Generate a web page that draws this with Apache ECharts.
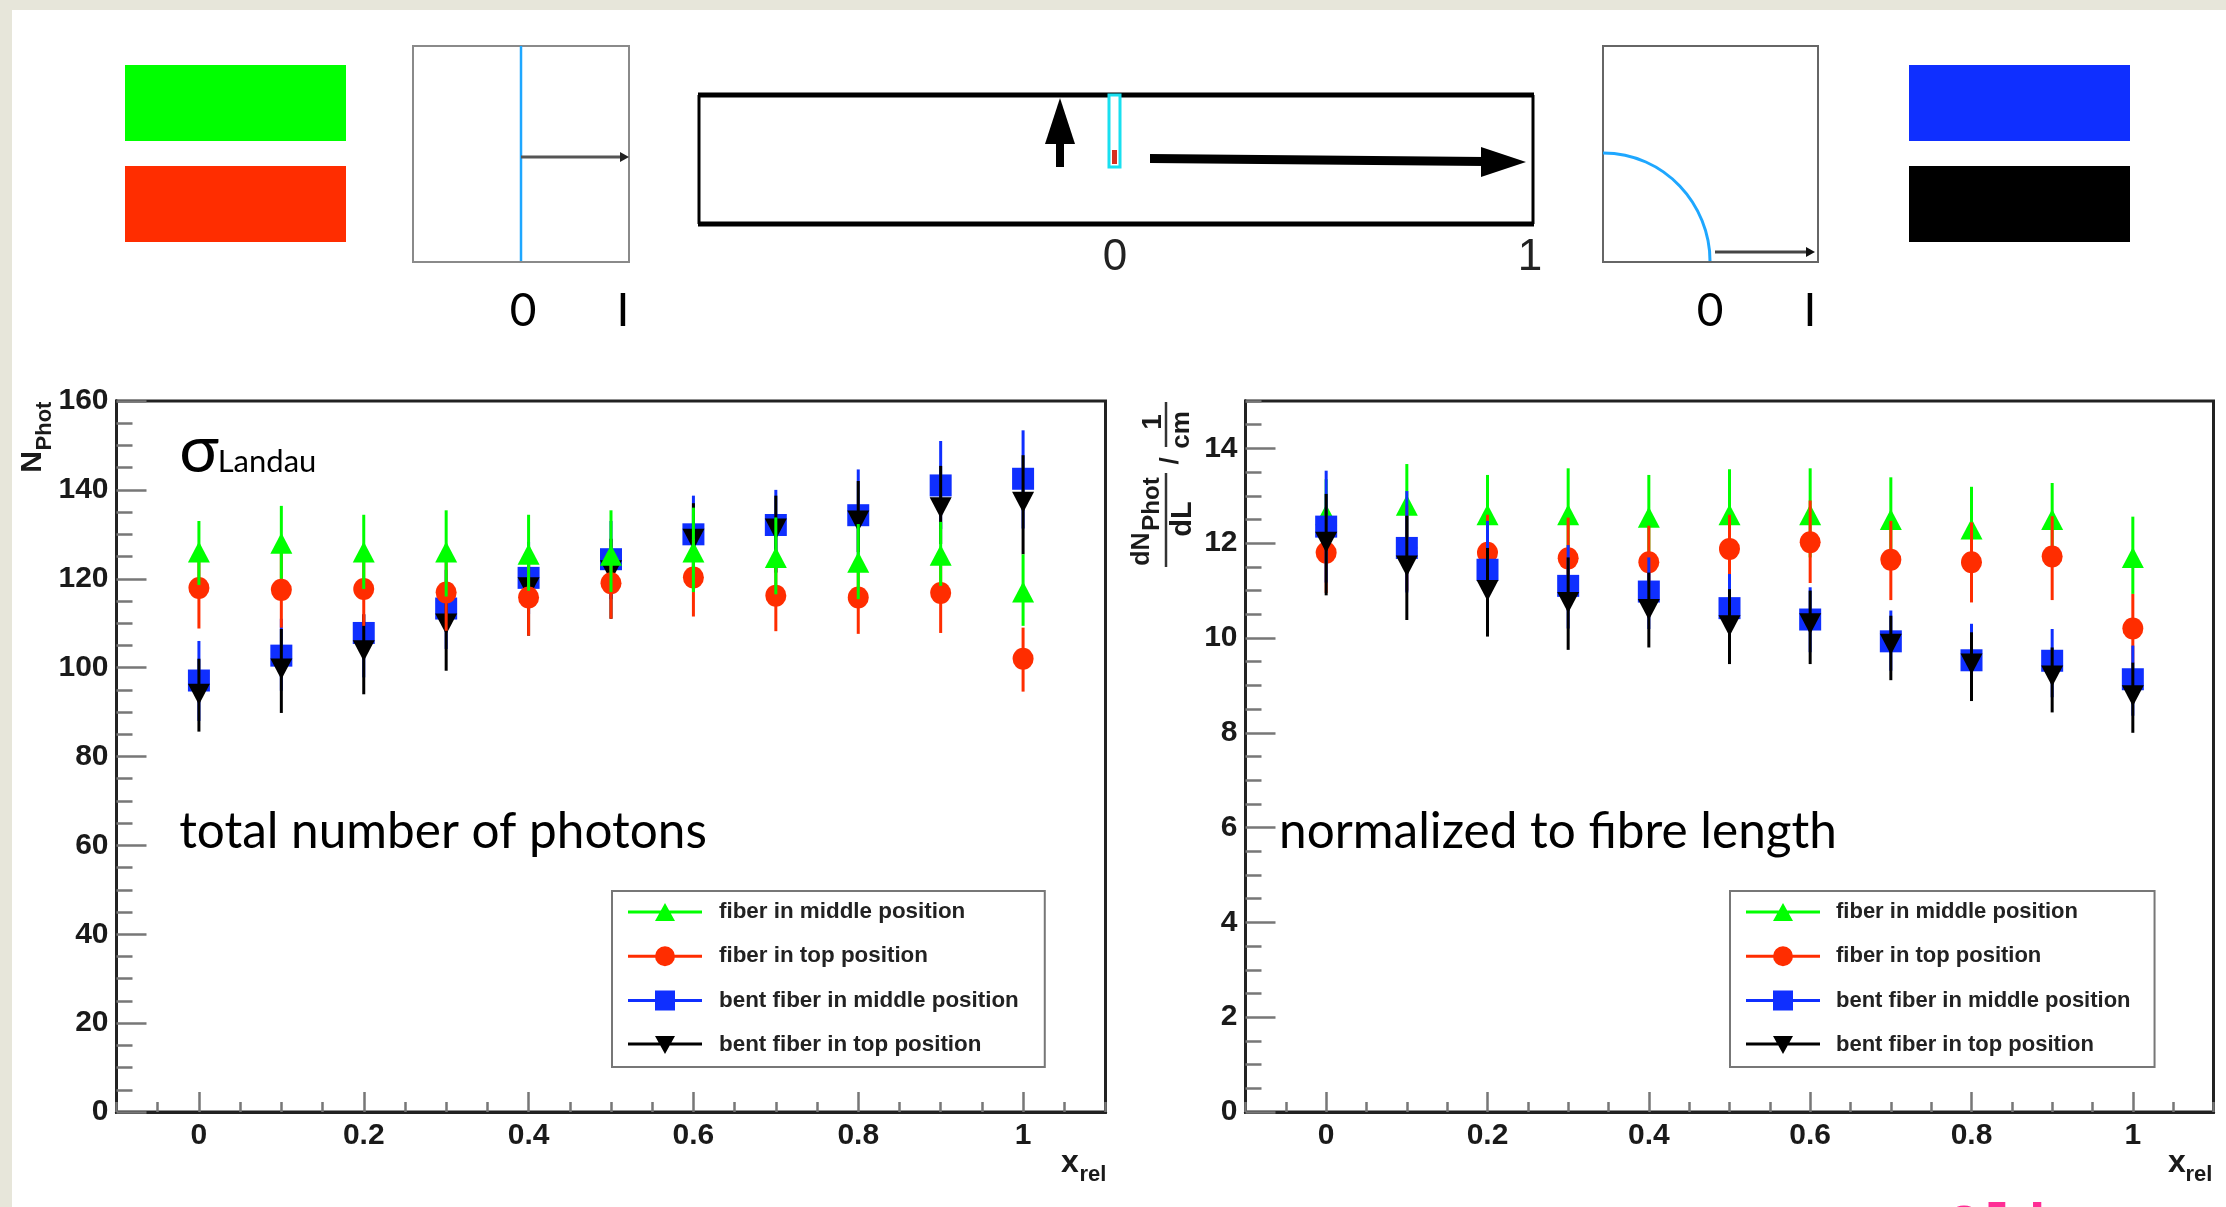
<!DOCTYPE html>
<html><head><meta charset="utf-8">
<script src="https://cdn.jsdelivr.net/npm/echarts@6/dist/echarts.min.js"></script>
<style>html,body{margin:0;padding:0;background:#e7e6da}#c{width:2226px;height:1207px}</style></head>
<body><div id="c"></div>
<script>
// ---------- data: left panel (total number of photons) ----------
const xRel = [0,0.1,0.2,0.3,0.4,0.5,0.6,0.7,0.8,0.9,1];
const seriesNames = ['fiber in middle position','fiber in top position','bent fiber in middle position','bent fiber in top position'];

const totalMiddle    = [126,128,126,126,125.5,125.3,126,124.8,123.7,125.3,117];
const totalMiddleHi  = [133,136.4,134.4,135.4,134.4,135.4,136,133.8,132.3,132.8,125.5];
const totalMiddleLo  = [118.6,120,117.7,116,117.3,117,117,116.5,115.4,118.4,109.4];
const totalTop       = [117.9,117.5,117.7,116.9,115.8,119,120.3,116.2,115.8,116.8,102];
const totalTopHi     = [127,126,126.2,125.4,124,127,129,124.5,124,125.7,109];
const totalTopLo     = [108.8,109,109.4,108.3,107.2,111,111.5,108.2,107.6,107.8,94.6];
const totalBent      = [97.1,102.7,107.8,113.3,120.2,124.4,130,132.1,134.3,141,142.5];
const totalBentHi    = [106,111,112,122,128.3,133,138.7,140,144.6,151,153.4];
const totalBentLo    = [88,94.8,97.8,104.2,112,115.4,121.4,121.4,124,131.2,131.3];
const totalBentTop   = [94,99.7,103.8,109.8,118,121.8,128.9,131.2,133,136,137.2];
const totalBentTopHi = [102,108.7,112,119,125,129,137,138.7,142,145.4,147.8];
const totalBentTopLo = [85.6,89.8,94,99.3,107.2,111,118.4,121.4,126,127.8,125.5];

// ---------- data: right panel (normalized to fibre length) ----------
const normMiddle    = [12.6,12.8,12.6,12.6,12.55,12.6,12.6,12.5,12.3,12.5,11.7];
const normMiddleHi  = [13.35,13.67,13.44,13.58,13.44,13.56,13.58,13.39,13.19,13.27,12.56];
const normMiddleLo  = [11.7,11.9,11.7,11.7,11.65,11.7,11.7,11.6,11.4,11.6,10.93];
const normTop       = [11.8,11.9,11.8,11.68,11.6,11.88,12.02,11.65,11.6,11.72,10.2];
const normTopHi     = [12.7,12.8,12.6,12.54,12.37,12.6,12.9,12.47,12.44,12.57,10.93];
const normTopLo     = [10.95,11,10.95,10.85,10.8,11.1,11.16,10.8,10.75,10.8,9.47];
const normBent      = [12.35,11.9,11.44,11.1,10.98,10.63,10.39,9.93,9.53,9.52,9.13];
const normBentHi    = [13.53,13.1,12.47,11.96,11.7,11.35,11.07,10.58,10.3,10.19,9.84];
const normBentLo    = [11.17,10.96,10.43,10.2,10.19,9.84,9.7,9.31,8.75,8.75,8.36];
const normBentTop   = [12.02,11.52,11,10.75,10.6,10.26,10.3,9.87,9.45,9.2,8.78];
const normBentTopHi = [13.04,12.58,11.9,11.7,11.38,11.03,11,10.47,10.12,9.8,9.48];
const normBentTopLo = [10.9,10.38,10.03,9.75,9.8,9.45,9.45,9.11,8.67,8.43,8];

// ---------- axis ticks ----------
const xTickLabels   = [0,0.2,0.4,0.6,0.8,1];
const yTicksTotal   = [0,20,40,60,80,100,120,140,160];
const yTicksNorm    = [0,2,4,6,8,10,12,14];

// ---------- styling ----------
const GREEN='#00ff00', RED='#ff2d00', BLUE='#0f2fff', BLACK='#000000';
const SANS='"Liberation Sans"', GILL='Lato';
const colors=[GREEN,RED,BLUE,BLACK];
const symbols=['triangle','circle','rect','triangle'];
const rotate=[0,0,0,180];

const line='M0 10.5H74V13.5H0Z ';
const icons=[
 'path://'+line+'M37 3L47 21H27Z',
 'path://'+line+'M37 2A10 10 0 1 1 36.99 2Z',
 'path://'+line+'M27 2H47V22H27Z',
 'path://'+line+'M27 4H47L37 22Z'
];

function errorSeries(name,idx,xi,yi,lo,hi,z){
  return {type:'custom',xAxisIndex:xi,yAxisIndex:yi,z:z,silent:true,legendHoverLink:false,
    encode:{x:0,y:[1,2]},
    data:xRel.map((x,i)=>[x,lo[i],hi[i]]),
    renderItem:(p,api)=>{
      const a=api.coord([api.value(0),api.value(1)]),b=api.coord([api.value(0),api.value(2)]);
      return {type:'line',shape:{x1:a[0],y1:a[1],x2:b[0],y2:b[1]},style:{stroke:colors[idx],lineWidth:3}};
    }};
}
function pointSeries(name,idx,xi,yi,v,z){
  return {type:'scatter',name:name,xAxisIndex:xi,yAxisIndex:yi,z:z,
    symbol:symbols[idx],symbolRotate:rotate[idx],symbolSize:[idx===1?21:22,idx===3||idx===0?21:22],
    itemStyle:{color:colors[idx],opacity:1},
    data:xRel.map((x,i)=>[x,v[i]])};
}
function panel(xi,yi,sets,order){
  const out=[];
  order.forEach((s,k)=>{
    out.push(errorSeries(seriesNames[s],s,xi,yi,sets[s][2],sets[s][1],k*2+2));
    out.push(pointSeries(seriesNames[s],s,xi,yi,sets[s][0],k*2+3));
  });
  return out;
}
const totalSets=[[totalMiddle,totalMiddleHi,totalMiddleLo],[totalTop,totalTopHi,totalTopLo],[totalBent,totalBentHi,totalBentLo],[totalBentTop,totalBentTopHi,totalBentTopLo]];
const normSets=[[normMiddle,normMiddleHi,normMiddleLo],[normTop,normTopHi,normTopLo],[normBent,normBentHi,normBentLo],[normBentTop,normBentTopHi,normBentTopLo]];

const labelStyle={fontFamily:SANS,fontWeight:'bold',fontSize:30,color:'#1a1a1a'};
const axisLineStyle={show:true,onZero:false,lineStyle:{color:'#222',width:3}};
const tickStyle={color:'#777',width:2.5};

function xAxes(g){
  const base={type:'value',gridIndex:g,min:-0.1,max:1.1,interval:0.05,position:'bottom',splitLine:{show:false},axisLine:axisLineStyle};
  return [
    {...base,axisTick:{show:true,inside:true,length:20,lineStyle:tickStyle,customValues:xTickLabels},
     axisLabel:{...labelStyle,margin:9,customValues:xTickLabels,formatter:v=>String(+v.toFixed(1))}},
    {...base,axisTick:{show:true,inside:true,length:10,lineStyle:tickStyle},axisLabel:{show:false}}
  ];
}
function yAxes(g,max,major,minor,ticks){
  const base={type:'value',gridIndex:g,min:0,max:max,position:'left',splitLine:{show:false},axisLine:axisLineStyle};
  return [
    {...base,interval:major,axisTick:{show:true,inside:true,length:30,lineStyle:tickStyle,customValues:ticks},
     axisLabel:{...labelStyle,margin:8,padding:[8,0,0,0],customValues:ticks}},
    {...base,interval:minor,axisTick:{show:true,inside:true,length:16,lineStyle:tickStyle},axisLabel:{show:false}}
  ];
}
function legend(left,fontSize,gap,padRight){
  return {orient:'vertical',left:left,top:891,itemWidth:74,itemHeight:24,itemGap:22.3,
    padding:[10,padRight,11,16],borderColor:'#777',borderWidth:2,backgroundColor:'#fff',selectedMode:false,
    textStyle:{fontFamily:SANS,fontWeight:'bold',fontSize:fontSize,color:'#222',padding:[0,0,0,gap]},
    data:seriesNames.map((n,i)=>({name:n,icon:icons[i],itemStyle:{color:colors[i],opacity:1}}))};
}
function txt(x,y,text,size,family,weight,color,extra){
  return Object.assign({type:'text',x:x,y:y,z:60,silent:true,
    style:{text:text,fontSize:size,fontFamily:family,fontWeight:weight||'normal',fill:color||'#000',align:'center',verticalAlign:'middle'}},extra||{});
}
function rect(x,y,w,h,fill,stroke,lw,z){
  return {type:'rect',z:z||50,silent:true,shape:{x:x,y:y,width:w,height:h},
    style:{fill:fill,stroke:stroke||null,lineWidth:lw||0}};
}
function seg(x1,y1,x2,y2,color,lw){
  return {type:'line',z:50,silent:true,shape:{x1,y1,x2,y2},style:{stroke:color,lineWidth:lw}};
}
function poly(pts,color){
  return {type:'polygon',z:51,silent:true,shape:{points:pts},style:{fill:color}};
}
const R=Math.PI/2;
const boldT=(x,y,t,s,extra)=>txt(x,y,t,s,SANS,'bold','#1a1a1a',extra);
const gillT=(x,y,t,s)=>txt(x,y,t,s,GILL,'normal','#000');
const graphics=[
  // slide
  rect(12,10,2214,1197,'#ffffff',null,0,-10),
  // colour swatches
  rect(125,65,221,76,GREEN), rect(125,166,221,76,RED),
  rect(1909,65,221,76,BLUE), rect(1909,166,221,76,BLACK),
  // left cross-section
  rect(413,46,216,216,'#fff','#8a8a8a',2),
  seg(521,46,521,261,'#1ea7ff',2.5),
  seg(521,157,622,157,'#555',3),
  poly([[620,152],[629,157],[620,162]],'#222'),
  gillT(523,311,'0',46), gillT(623,311,'I',46),
  // central fibre sketch
  rect(699,95,834,129,'#fff','#000',0),
  seg(698,95,1534,95,'#000',5), seg(698,224,1534,224,'#000',5),
  seg(699,95,699,224,'#000',3), seg(1533,95,1533,224,'#000',3),
  seg(1060,167,1060,140,'#000',8),
  poly([[1060,98],[1075,144],[1045,144]],'#000'),
  rect(1109,95,11,72,'#fff','#19e0f0',3,52),
  rect(1112,150,5,14,'#d83020',null,0,53),
  poly([[1150,154],[1485,157],[1485,166],[1150,163]],'#000'),
  poly([[1481,147],[1526,162],[1481,177]],'#000'),
  txt(1115,258,'0',44,SANS,'normal','#222'), txt(1530,258,'1',44,SANS,'normal','#222'),
  // right cross-section
  rect(1603,46,215,216,'#fff','#666',2),
  {type:'bezierCurve',z:52,silent:true,shape:{x1:1603,y1:153,cpx1:1665,cpy1:153,cpx2:1710,cpy2:205,x2:1710,y2:261},style:{fill:null,stroke:'#1ea7ff',lineWidth:3}},
  seg(1715,252,1808,252,'#444',3),
  poly([[1806,247],[1815,252],[1806,257]],'#111'),
  gillT(1710,311,'0',46), gillT(1810,311,'I',46),
  // panel notes
  gillT(199,451,'σ',66), gillT(267,462,'Landau',31),
  gillT(443,832,'total number of photons',49.5),
  gillT(1558,832,'normalized to fibre length',49.5),
  // left y title
  boldT(33,462,'N',30,{rotation:R}),
  boldT(45,426,'Phot',22,{rotation:R}),
  // right y title
  boldT(1142,549,'dN',25,{rotation:R}),
  boldT(1152,504,'Phot',24,{rotation:R}),
  boldT(1183,519,'dL',29,{rotation:R}),
  seg(1166,473,1166,567,'#333',2.5),
  boldT(1171,461,'/',26,{rotation:R}),
  boldT(1153,422,'1',28,{rotation:R}),
  seg(1166,402,1166,447,'#333',2.5),
  boldT(1182,430,'cm',26,{rotation:R}),
  // x titles
  boldT(1070,1163,'x',32), boldT(1093,1175,'rel',22),
  boldT(2177,1163,'x',32), boldT(2199,1175,'rel',22),
  // cropped signature at the lower edge
  {type:'text',x:1946,y:1200,z:60,silent:true,style:{text:'Oli',fontFamily:'"Liberation Mono"',fontWeight:'bold',fontSize:60,fill:'#ff2d95',align:'left',verticalAlign:'top'}}
];

const chart=echarts.init(document.getElementById('c'),null,{renderer:'canvas'});
chart.setOption({
  animation:false,
  backgroundColor:'transparent',
  grid:[
    {left:116.5,top:401,width:989,height:711,show:true,borderColor:'#222',borderWidth:3,backgroundColor:'#fff',z:-5},
    {left:1245.5,top:401,width:968,height:711,show:true,borderColor:'#222',borderWidth:3,backgroundColor:'#fff',z:-5}
  ],
  xAxis:[...xAxes(0),...xAxes(1)],
  yAxis:[...yAxes(0,160,20,5,yTicksTotal),...yAxes(1,15,2,0.5,yTicksNorm)],
  legend:[legend(612,22.4,12,26),legend(1730,22,11,24)],
  graphic:graphics,
  series:[
    ...panel(0,0,totalSets,[2,3,1,0]),
    ...panel(2,2,normSets,[0,1,2,3])
  ]
});
</script></body></html>
